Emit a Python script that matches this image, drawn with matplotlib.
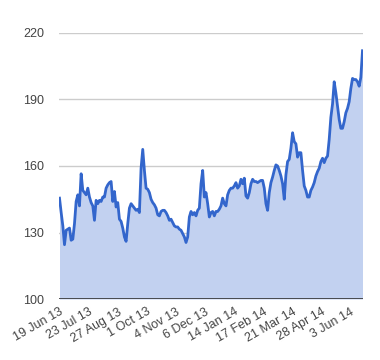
import numpy as np
import matplotlib
matplotlib.use("Agg")
import matplotlib.pyplot as plt

plt.rcParams['font.family'] = ['Liberation Sans', 'DejaVu Sans']

values = [
    145.5, 139, 133, 124.5, 131, 131.5, 132, 126.5, 127, 134,
    144, 147, 142, 156.5, 149, 148, 147, 150, 146, 143.5,
    142, 135.5, 144.5, 143, 144.5, 144, 146, 146, 150, 151.5,
    152.5, 153, 144, 148.5, 141.5, 143.5, 136, 135, 132, 128,
    126, 134, 141, 143, 142, 141, 140, 140.5, 139, 159,
    167.5, 158, 150, 149.5, 148, 145, 143.5, 142.5, 141, 138,
    137.5, 139.5, 140, 140, 139, 137.5, 135.5, 136, 134.5, 133,
    132.5, 132.5, 131.5, 131, 129.5, 128, 125.5, 128, 137, 139.5,
    138, 139, 137.5, 140, 141, 152, 158, 146, 148, 143,
    137, 139, 139.5, 137.5, 139.5, 139.5, 140.5, 142, 145.5, 143,
    142, 147, 149, 150, 150, 151, 152.5, 150, 151, 154,
    152, 154.5, 146.5, 145.5, 148, 152, 154, 153, 153, 152.5,
    153, 153.5, 153.5, 150, 143, 140, 148, 152.5, 155, 158,
    160.5, 160, 158, 155.5, 152, 145, 156, 162, 163, 168,
    175, 171, 170, 164, 166, 166, 158, 151, 149, 146,
    146, 149, 150.5, 152.5, 155.5, 157.5, 159, 162, 163.5, 161.5,
    163.5, 164.5, 172, 182, 188, 198, 193, 187, 181, 177,
    177, 180, 184, 186, 189, 195, 199.5, 199, 199, 198,
    196, 200, 212,
]

tick_labels = ["19 Jun 13", "23 Jul 13", "27 Aug 13", "1 Oct 13", "4 Nov 13",
               "6 Dec 13", "14 Jan 14", "17 Feb 14", "21 Mar 14", "28 Apr 14",
               "3 Jun 14"]
y_ticks = [100, 130, 160, 190, 220]

x = np.arange(len(values))
tick_step = 17.46
tick_pos = np.arange(len(tick_labels)) * tick_step

fig = plt.figure(figsize=(3.8, 3.6), dpi=100)
ax = fig.add_axes([59.5 / 380, 61 / 360, 303 / 380, 266 / 360])

line_color = "#3366cc"
ax.fill_between(x, 100, values, color="#c2d1f0", linewidth=0)
ax.plot(x, values, color=line_color, linewidth=2.0, solid_joinstyle="round")

ax.set_xlim(0, len(values) - 1)
ax.set_ylim(100, 220)
ax.set_yticks(y_ticks)
ax.set_yticklabels([str(v) for v in y_ticks])
ax.grid(axis="y", color="#cccccc", linewidth=1)
ax.set_axisbelow(True)
ax.axhline(100, color="#333333", linewidth=1.2, zorder=5)

ax.set_xticks(tick_pos)
ax.set_xticklabels(tick_labels, rotation=30, ha="right", rotation_mode="anchor")

for s in ax.spines.values():
    s.set_visible(False)
ax.tick_params(axis="both", length=0, labelsize=9, labelcolor="#444444")
ax.tick_params(axis="y", pad=11)
ax.tick_params(axis="x", pad=5)

fig.savefig("out.png", dpi=100, facecolor="white")
